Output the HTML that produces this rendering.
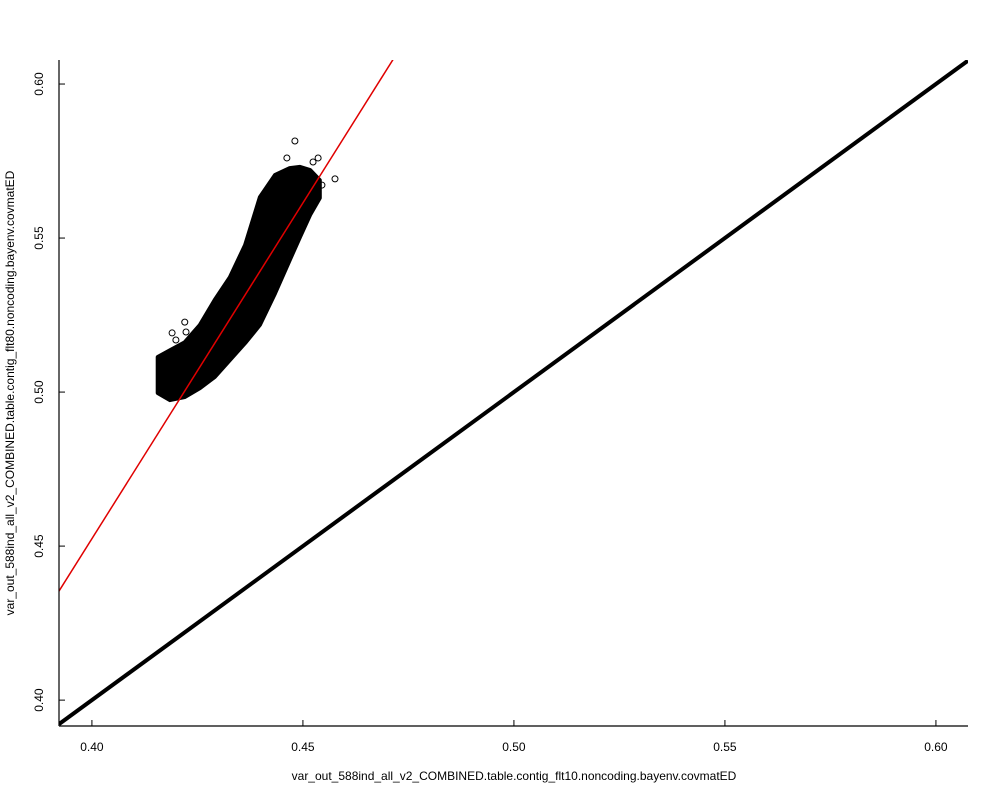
<!DOCTYPE html>
<html><head><meta charset="utf-8"><style>
body{margin:0;background:#fff;}
svg text{font-family:"Liberation Sans","DejaVu Sans",sans-serif;fill:#000;}
</style></head><body>
<svg id="chart" width="1000" height="800" viewBox="0 0 1000 800" xmlns="http://www.w3.org/2000/svg">
<rect width="1000" height="800" fill="#fff"/>
<g id="plot"></g>
</svg>
<script>
const xTicks=[0.40,0.45,0.50,0.55,0.60];
const yTicks=[0.40,0.45,0.50,0.55,0.60];
const xTickLabels=["0.40","0.45","0.50","0.55","0.60"];
const yTickLabels=["0.40","0.45","0.50","0.55","0.60"];
const cloudX=[0.4156,0.4185,0.4220,0.4256,0.4291,0.4327,0.4363,0.4398,0.4434,0.4469,0.4493,0.4517,0.4540];
const cloudUpper=[0.5114,0.5136,0.5162,0.5218,0.5299,0.5373,0.5477,0.5633,0.5705,0.5727,0.5731,0.5721,0.5688];
const cloudLower=[0.4997,0.4974,0.4984,0.5013,0.5049,0.5104,0.5159,0.5218,0.5321,0.5429,0.5503,0.5575,0.5630];
const outlierX=[0.4481,0.4576,0.4220,0.4223,0.4190,0.4524,0.4536,0.4462,0.4545,0.4199];
const outlierY=[0.5815,0.5692,0.5227,0.5195,0.5192,0.5747,0.5760,0.5760,0.5672,0.5169];
const fitSlope=[2.18];
const fitIntercept=[-0.4196];
const xMin=0.3922,xMax=0.6076,yMin=0.3916,yMax=0.6078;
const L=59,R=968,T=60,B=726;
const sx=v=>L+(v-xMin)/(xMax-xMin)*(R-L);
const sy=v=>B-(v-yMin)/(yMax-yMin)*(B-T);
const NS="http://www.w3.org/2000/svg";
const g=document.getElementById('plot');
function mk(tag,attrs,parent){const e=document.createElementNS(NS,tag);for(const k in attrs)e.setAttribute(k,attrs[k]);(parent||g).appendChild(e);return e;}
const defs=mk('defs',{});
mk('clipPath',{id:'clip'},defs);
mk('rect',{x:L,y:T,width:R-L,height:B-T},defs.firstChild);
// cloud
let pts=[];
cloudX.forEach((x,i)=>pts.push(sx(x).toFixed(1)+','+sy(cloudUpper[i]).toFixed(1)));
for(let i=cloudX.length-1;i>=0;i--)pts.push(sx(cloudX[i]).toFixed(1)+','+sy(cloudLower[i]).toFixed(1));
const cloud=mk('polygon',{points:pts.join(' '),fill:'#000',stroke:'#000','stroke-width':4,'stroke-linejoin':'round'});


outlierX.forEach((x,i)=>{const c=mk('circle',{cx:sx(x),cy:sy(outlierY[i]),r:3,fill:'none',stroke:'#000','stroke-width':1});

});
// identity line
const id=mk('line',{x1:sx(xMin),y1:sy(xMin),x2:sx(xMax),y2:sy(xMax),stroke:'#000','stroke-width':4,'clip-path':'url(#clip)'});


// fit line
const fl=mk('line',{x1:sx(xMin),y1:sy(fitIntercept[0]+fitSlope[0]*xMin),x2:sx(xMax),y2:sy(fitIntercept[0]+fitSlope[0]*xMax),stroke:'#e00000','stroke-width':1.5,'clip-path':'url(#clip)'});


// axes
const ax=mk('line',{x1:L,y1:B,x2:R,y2:B,stroke:'#000','stroke-width':1.2});


const ay=mk('line',{x1:L,y1:T,x2:L,y2:B,stroke:'#000','stroke-width':1.2});


xTicks.forEach((v,i)=>{const t=mk('line',{x1:sx(v),y1:B,x2:sx(v),y2:B-6,stroke:'#000'});


const tx=mk('text',{x:sx(v),y:751,'text-anchor':'middle','font-size':12});tx.textContent=xTickLabels[i];

});
yTicks.forEach((v,i)=>{const t=mk('line',{x1:L,y1:sy(v),x2:L+6,y2:sy(v),stroke:'#000'});


const tx=mk('text',{x:0,y:0,'text-anchor':'middle','font-size':12,transform:`translate(43,${sy(v)}) rotate(-90)`});tx.textContent=yTickLabels[i];

});
const xt=mk('text',{x:514,y:780,'text-anchor':'middle','font-size':12});xt.textContent='var_out_588ind_all_v2_COMBINED.table.contig_flt10.noncoding.bayenv.covmatED';


const yt=mk('text',{x:0,y:0,'text-anchor':'middle','font-size':12,transform:'translate(14,393) rotate(-90)'});yt.textContent='var_out_588ind_all_v2_COMBINED.table.contig_flt80.noncoding.bayenv.covmatED';


</script>
</body></html>
